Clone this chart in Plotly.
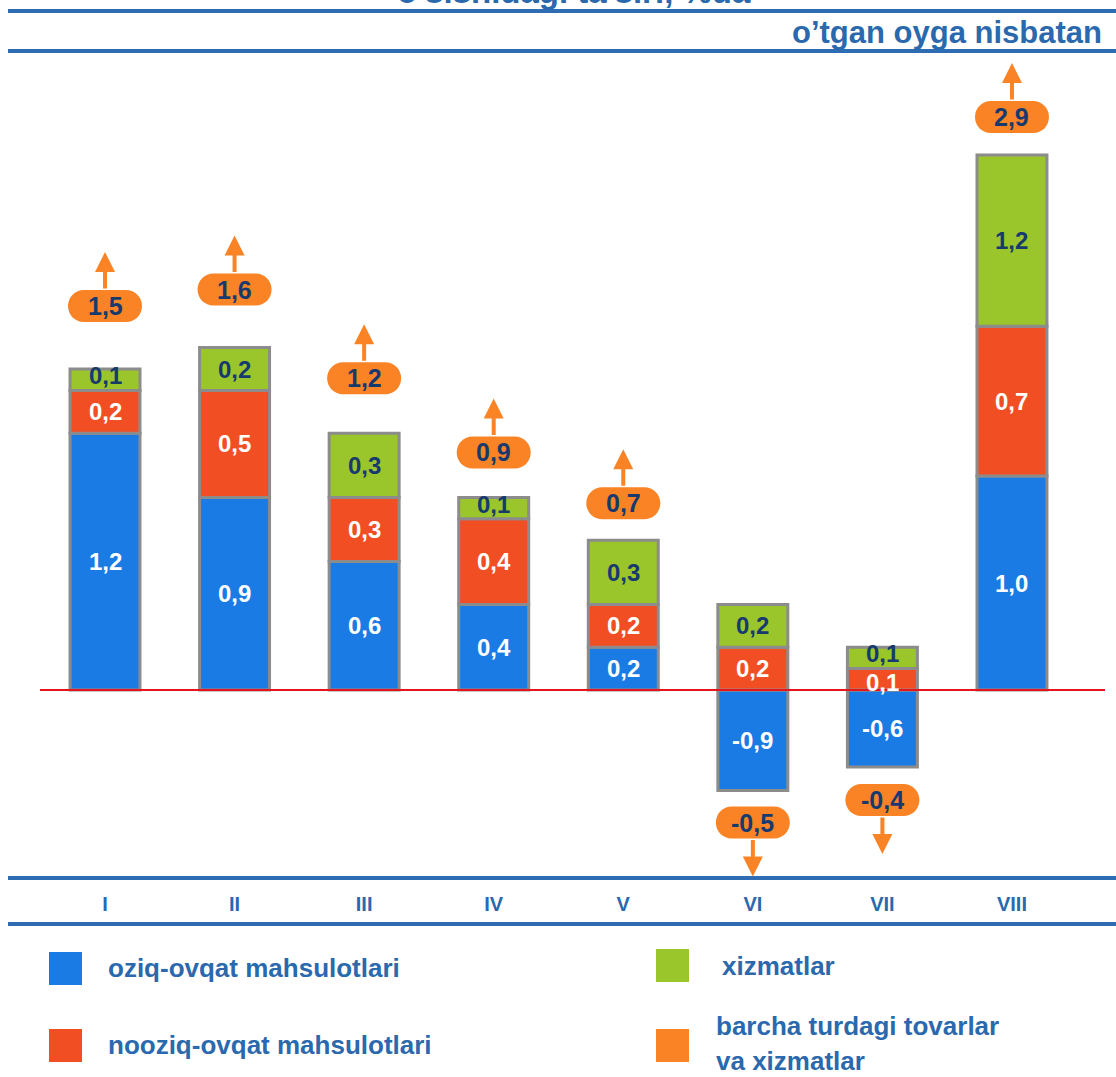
import plotly.graph_objects as go

# months and contributions (percentage points), labels as printed on the chart
months = ["I", "II", "III", "IV", "V", "VI", "VII", "VIII"]
oziq = [1.2, 0.9, 0.6, 0.4, 0.2, -0.9, -0.6, 1.0]
nooziq = [0.2, 0.5, 0.3, 0.4, 0.2, 0.2, 0.1, 0.7]
xizmat = [0.1, 0.2, 0.3, 0.1, 0.3, 0.2, 0.1, 1.2]
jami = [1.5, 1.6, 1.2, 0.9, 0.7, -0.5, -0.4, 2.9]

# the source draws a few segments shorter than their printed value;
# these are the segment heights as drawn in the picture
oziq_drawn = [1.2, 0.9, 0.6, 0.4, 0.2, -0.47, -0.36, 1.0]
nooziq_drawn = [0.2, 0.5, 0.3, 0.4, 0.2, 0.2, 0.1, 0.7]
xizmat_drawn = [0.1, 0.2, 0.3, 0.1, 0.3, 0.2, 0.1, 0.8]

# pixel gap between bar end and the orange total badge
badge_gap = [63, 58, 55, 45, 37, 32, 33, 38]

BLUE = "#1a7be5"
RED = "#f24e24"
GREEN = "#9ac52b"
ORANGE = "#fa8325"
NAVY = "#173a6e"
STEEL = "#2a69ad"
FONT = "Liberation Sans, Arial, sans-serif"

W, H = 1116, 1077
ML, MR, MT, MB = 40, 11, 60, 201
PW, PH = W - ML - MR, H - MT - MB


def px_x(p):
    return (p - ML) / PW


def px_y(p):
    return (H - MB - p) / PH


def fmt(v):
    return f"{v:.1f}".replace(".", ",")


def bold(size, color):
    return dict(family=FONT, size=size, color=color, weight="bold")


x = list(range(len(months)))
fig = go.Figure()
for name, vals, col in [("oziq-ovqat mahsulotlari", oziq_drawn, BLUE),
                        ("nooziq-ovqat mahsulotlari", nooziq_drawn, RED),
                        ("xizmatlar", xizmat_drawn, GREEN)]:
    fig.add_trace(go.Bar(x=x, y=vals, name=name, width=0.54, showlegend=False,
                         marker=dict(color=col, line=dict(color="#8c8c8c", width=3)),
                         hoverinfo="skip"))

annotations = []
shapes = []

# segment labels
for i in x:
    pos, neg = 0.0, 0.0
    for k, (vals, labels, col) in enumerate([(oziq_drawn, oziq, "white"),
                                             (nooziq_drawn, nooziq, "white"),
                                             (xizmat_drawn, xizmat, NAVY)]):
        v = vals[i]
        if v >= 0:
            mid = pos + v / 2
            pos += v
        else:
            mid = neg + v / 2
            neg += v
        # thin segments: labels spill a little, as in the source
        shift = 0
        if abs(v) < 0.15:
            shift = 4 if k == 2 else -3
        annotations.append(dict(x=i, y=mid, xref="x", yref="y", yshift=shift,
                                text=fmt(labels[i]), showarrow=False, font=bold(24, col)))

    # total badge with arrow
    up = jami[i] >= 0
    base = pos if up else neg
    s = 1 if up else -1
    g = badge_gap[i]
    cy = s * g
    path = (f"M -21,{cy - 16} L 21,{cy - 16} C 30,{cy - 16} 37,{cy - 9} 37,{cy} "
            f"C 37,{cy + 9} 30,{cy + 16} 21,{cy + 16} L -21,{cy + 16} "
            f"C -30,{cy + 16} -37,{cy + 9} -37,{cy} C -37,{cy - 9} -30,{cy - 16} -21,{cy - 16} Z")
    shapes.append(dict(type="path", xref="x", yref="y", xsizemode="pixel", ysizemode="pixel",
                       xanchor=i, yanchor=base, path=path, fillcolor=ORANGE,
                       line=dict(width=0), layer="above"))
    annotations.append(dict(x=i, y=base, xref="x", yref="y", yshift=cy, text=fmt(jami[i]),
                            showarrow=False, font=bold(25, NAVY)))
    annotations.append(dict(x=i, y=base, xref="x", yref="y", yshift=s * (g + 54), text="",
                            showarrow=True, ax=0, ay=s * 38, arrowhead=2, arrowsize=1,
                            arrowwidth=4, arrowcolor=ORANGE, standoff=0, startstandoff=0))

# zero line
shapes.append(dict(type="line", xref="paper", yref="y", x0=0, x1=1, y0=0, y1=0,
                   line=dict(color="#e8141b", width=2), layer="above"))

# decorative rules
for yy in [11, 51, 878, 924]:
    shapes.append(dict(type="line", xref="paper", yref="paper", x0=px_x(8), x1=px_x(1116),
                       y0=px_y(yy), y1=px_y(yy), line=dict(color="#2e6db4", width=4)))

# header texts (the first line is cut by the top edge in the source)
annotations.append(dict(xref="paper", yref="paper", x=px_x(574), y=px_y(-9),
                        xanchor="center", yanchor="middle",
                        text="o’sishidagi ta’siri, %da", showarrow=False,
                        font=bold(33, STEEL)))
annotations.append(dict(xref="paper", yref="paper", x=px_x(1104), y=px_y(33),
                        xanchor="right", yanchor="middle",
                        text="o’tgan oyga nisbatan", showarrow=False,
                        font=bold(31, STEEL)))

# legend
legend_boxes = [(BLUE, 49, 968), (RED, 49, 1045), (GREEN, 656, 965), (ORANGE, 656, 1045)]
legend_texts = [("oziq-ovqat mahsulotlari", 106, 968),
                ("nooziq-ovqat mahsulotlari", 106, 1045),
                ("xizmatlar", 720, 966),
                ("barcha turdagi tovarlar", 714, 1026),
                ("va xizmatlar", 714, 1061)]
for col, sx, cy in legend_boxes:
    shapes.append(dict(type="rect", xref="paper", yref="paper", x0=px_x(sx), x1=px_x(sx + 33),
                       y0=px_y(cy - 16), y1=px_y(cy + 17), fillcolor=col, line=dict(width=0)))
for text, tx, cy in legend_texts:
    annotations.append(dict(xref="paper", yref="paper", x=px_x(tx), y=px_y(cy),
                            xanchor="left", yanchor="middle",
                            text=text, showarrow=False, font=bold(26, STEEL)))

fig.update_layout(
    width=W, height=H, barmode="relative", bargap=0.46,
    plot_bgcolor="white", paper_bgcolor="white",
    margin=dict(l=ML, r=MR, t=MT, b=MB),
    font=dict(family=FONT, color=STEEL),
    xaxis=dict(range=[-0.5017, 7.718], tickvals=x, ticktext=months, showgrid=False,
               zeroline=False, showline=False, ticks="", ticklabelstandoff=14,
               tickfont=bold(20, STEEL)),
    yaxis=dict(range=[-(876 - 690) / 214, (690 - 60) / 214], visible=False, showgrid=False,
               zeroline=False),
    shapes=shapes, annotations=annotations,
)

fig.write_html("out.html", config={"displayModeBar": False},
               post_script="document.body.style.margin='0px';")
